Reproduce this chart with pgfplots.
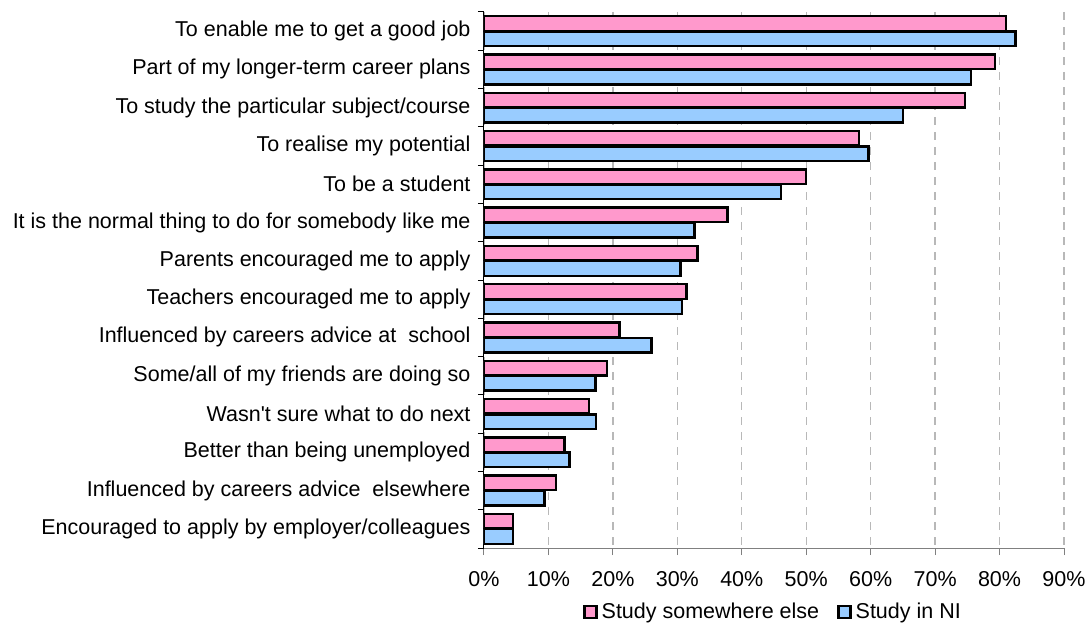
\documentclass[border=0pt]{standalone}
\usepackage{fontspec}
\setmainfont{Liberation Sans}
\usepackage{pgfplots}
\pgfplotsset{compat=1.18}
\definecolor{barpink}{HTML}{FF99CC}
\definecolor{barblue}{HTML}{99CCFF}
\definecolor{gridgray}{HTML}{B8B8B8}
\begin{document}
\begin{tikzpicture}[font=\fontsize{21.5}{25}\selectfont]
\useasboundingbox (0,0) rectangle (1090pt,623pt);
\begin{axis}[
  at={(484pt,75pt)}, anchor=south west,
  scale only axis, width=580pt, height=536pt,
  xmin=0, xmax=90, ymin=-0.5, ymax=13.5,
  y dir=reverse,
  axis x line*=bottom, axis y line*=left,
  axis line style={-},
  x axis line style={draw=gray, line width=1pt},
  y axis line style={draw=black, line width=1pt},
  xtick={0,10,...,90},
  xticklabels={0\%,10\%,20\%,30\%,40\%,50\%,60\%,70\%,80\%,90\%},
  ytick={0,...,13},
  yticklabels={To enable me to get a good job,
    Part of my longer-term career plans,
    To study the particular subject/course,
    To realise my potential,
    To be a student,
    It is the normal thing to do for somebody like me,
    Parents encouraged me to apply,
    Teachers encouraged me to apply,
    Influenced by careers advice at~ school,
    Some/all of my friends are doing so,
    Wasn\textquotesingle t sure what to do next,
    Better than being unemployed,
    Influenced by careers advice~ elsewhere,
    Encouraged to apply by employer/colleagues},
  minor ytick={-0.5,0.5,...,13.5},
  tick align=outside,
  major tick length=7pt, minor tick length=6pt,
  major x tick style={draw=gray, line width=1pt},
  major y tick style={draw=none},
  minor y tick style={draw=black, line width=1pt},
  xmajorgrids,
  major x grid style={draw=gridgray, line width=1.3pt, dash pattern=on 8pt off 7pt},
  xticklabel style={yshift=-13pt},
  yticklabel style={xshift=-3pt},
  bar width=0.38,
  legend style={at={(0.5,-0.119)}, anchor=center, draw=none, fill=none,
    legend columns=2, inner sep=0pt, nodes={inner xsep=4pt, inner ysep=0pt},
    /tikz/every even column/.append style={column sep=14pt}},
  legend cell align=left,
]
\addplot[xbar, bar shift=-0.2, draw=black, line width=2.5pt, fill=barpink,
  legend image code/.code={\draw[draw=black, line width=2.5pt, fill=barpink] (0pt,-6pt) rectangle (12pt,6pt);}]
  coordinates {
  (81.0,0) (79.3,1) (74.6,2) (58.2,3) (50.0,4) (37.8,5) (33.1,6)
  (31.4,7) (21.0,8) (19.1,9) (16.3,10) (12.5,11) (11.2,12) (4.5,13)
  };
\addplot[xbar, bar shift=0.2, draw=black, line width=2.5pt, fill=barblue,
  legend image code/.code={\draw[draw=black, line width=2.5pt, fill=barblue] (0pt,-6pt) rectangle (12pt,6pt);}]
  coordinates {
  (82.5,0) (75.6,1) (65.0,2) (59.7,3) (46.1,4) (32.7,5) (30.5,6)
  (30.7,7) (26.0,8) (17.3,9) (17.4,10) (13.3,11) (9.4,12) (4.5,13)
  };
\legend{Study somewhere else, Study in NI}
\end{axis}
\end{tikzpicture}
\end{document}
